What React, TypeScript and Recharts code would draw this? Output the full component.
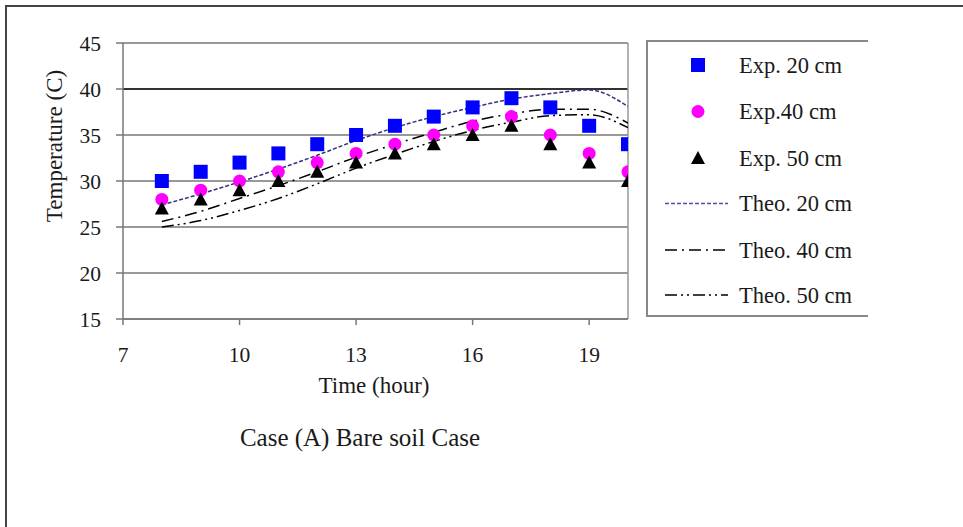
import { ComposedChart, Line, Scatter, XAxis, YAxis, CartesianGrid, ReferenceLine } from 'recharts';

// hours of the day (x) and temperatures (C) at each depth
const hours = [8, 9, 10, 11, 12, 13, 14, 15, 16, 17, 18, 19, 20];
const exp20 = [30, 31, 32, 33, 34, 35, 36, 37, 38, 39, 38, 36, 34];
const exp40 = [28, 29, 30, 31, 32, 33, 34, 35, 36, 37, 35, 33, 31];
const exp50 = [27, 28, 29, 30, 31, 32, 33, 34, 35, 36, 34, 32, 30];
const theo20 = [27.4, 28.6, 29.9, 31.3, 32.8, 34.4, 35.8, 37.0, 38.0, 38.9, 39.5, 39.9, 38.1];
const theo40 = [25.6, 26.7, 28.1, 29.5, 31.0, 32.6, 34.0, 35.3, 36.5, 37.3, 37.8, 37.8, 36.3];
const theo50 = [25.0, 25.7, 26.8, 28.1, 29.7, 31.4, 32.9, 34.3, 35.5, 36.4, 37.1, 37.2, 35.8];

const xTicks = [7, 10, 13, 16, 19];
const yTicks = [15, 20, 25, 30, 35, 40, 45];

const legendLabels = ['Exp. 20 cm', 'Exp.40 cm', 'Exp. 50 cm', 'Theo. 20 cm', 'Theo. 40 cm', 'Theo. 50 cm'];

const data = hours.map((h, i) => ({
  hour: h,
  exp20: exp20[i],
  exp40: exp40[i],
  exp50: exp50[i],
  theo20: theo20[i],
  theo40: theo40[i],
  theo50: theo50[i],
}));

const FONT = '"Liberation Serif", "Times New Roman", serif';
const TEXT = '#1a1a1a';
const DASH20 = '4 2';
const DASH40 = '12 5 2 5';
const DASH50 = '12 4 2 4 2 4';

const SquareDot = (p: any) => <rect x={p.cx - 7} y={p.cy - 7} width={14} height={14} fill="#0000ff" />;
const CircleDot = (p: any) => <circle cx={p.cx} cy={p.cy} r={6.5} fill="#ff00ff" />;
const TriangleDot = (p: any) => (
  <polygon points={`${p.cx},${p.cy - 7} ${p.cx - 7},${p.cy + 6} ${p.cx + 7},${p.cy + 6}`} fill="#000" />
);

function LegendBox() {
  const rows = [25, 71.5, 118, 163.5, 210, 255];
  return (
    <div
      style={{
        position: 'absolute', left: 646, top: 40, width: 222, height: 277,
        borderTop: '2px solid #888', borderLeft: '2px solid #888', borderBottom: '2px solid #888',
        boxSizing: 'border-box',
      }}
    >
      <svg width={222} height={277} style={{ position: 'absolute', left: -2, top: -2 }}>
        <rect x={45} y={rows[0] - 7} width={14} height={14} fill="#0000ff" />
        <circle cx={52} cy={rows[1]} r={6.5} fill="#ff00ff" />
        <polygon points={`52,${rows[2] - 7} 45,${rows[2] + 6} 59,${rows[2] + 6}`} fill="#000" />
        <line x1={19} x2={82} y1={rows[3]} y2={rows[3]} stroke="#5050a0" strokeWidth={1.5} strokeDasharray={DASH20} />
        <line x1={19} x2={82} y1={rows[4]} y2={rows[4]} stroke="#000" strokeWidth={1.5} strokeDasharray={DASH40} />
        <line x1={19} x2={82} y1={rows[5]} y2={rows[5]} stroke="#000" strokeWidth={1.5} strokeDasharray={DASH50} />
        {legendLabels.map((t, i) => (
          <text key={t} x={93} y={rows[i]} dominantBaseline="central" fontSize={22.5} fontFamily={FONT} fill={TEXT}>
            {t}
          </text>
        ))}
      </svg>
    </div>
  );
}

export default function App() {
  return (
    <div style={{ position: 'absolute', left: 0, top: 0, width: 963, height: 527, background: '#fff', overflow: 'hidden' }}>
      <div
        style={{
          position: 'absolute', left: 5, top: 5, width: 958, height: 522,
          borderTop: '2px solid #444', borderLeft: '2px solid #444',
        }}
      />
      <div style={{ position: 'absolute', left: 0, top: 0 }}>
        <ComposedChart width={963} height={527} data={data} margin={{ top: 43, right: 335, bottom: 168, left: 63 }}>
          <CartesianGrid vertical={false} stroke="#777" strokeWidth={1.5} />
          <ReferenceLine y={40} stroke="#111" strokeWidth={1.5} />
          <ReferenceLine x={20} stroke="#999" strokeWidth={1.5} />
          <XAxis
            dataKey="hour"
            type="number"
            domain={[7, 20]}
            ticks={xTicks}
            allowDataOverflow
            height={40}
            stroke="#777"
            strokeWidth={1.5}
            tickSize={6}
            tickMargin={22}
            tick={{ fill: TEXT, fontSize: 21.5, fontFamily: FONT }}
          />
          <YAxis
            type="number"
            domain={[15, 45]}
            ticks={yTicks}
            width={60}
            stroke="#777"
            strokeWidth={1.5}
            tickSize={7}
            tickMargin={15}
            tick={{ fill: TEXT, fontSize: 21.5, fontFamily: FONT }}
          />
          <Scatter dataKey="exp20" shape={SquareDot} isAnimationActive={false} />
          <Scatter dataKey="exp40" shape={CircleDot} isAnimationActive={false} />
          <Scatter dataKey="exp50" shape={TriangleDot} isAnimationActive={false} />
          <Line type="monotone" dataKey="theo20" stroke="#33337f" strokeWidth={1.5} strokeDasharray={DASH20} dot={false} activeDot={false} isAnimationActive={false} />
          <Line type="monotone" dataKey="theo40" stroke="#000" strokeWidth={1.5} strokeDasharray={DASH40} dot={false} activeDot={false} isAnimationActive={false} />
          <Line type="monotone" dataKey="theo50" stroke="#000" strokeWidth={1.5} strokeDasharray={DASH50} dot={false} activeDot={false} isAnimationActive={false} />
        </ComposedChart>
      </div>
      <svg width={963} height={527} style={{ position: 'absolute', left: 0, top: 0, pointerEvents: 'none' }}>
        <text x={54} y={146} transform="rotate(-90 54 146)" textAnchor="middle" dominantBaseline="central" fontSize={23} fontFamily={FONT} fill={TEXT}>
          Temperature (C)
        </text>
        <text x={374} y={385} textAnchor="middle" dominantBaseline="central" fontSize={23} fontFamily={FONT} fill={TEXT}>
          Time (hour)
        </text>
        <text x={360} y={437} textAnchor="middle" dominantBaseline="central" fontSize={25} fontFamily={FONT} fill={TEXT}>
          Case (A) Bare soil Case
        </text>
      </svg>
      <LegendBox />
    </div>
  );
}
